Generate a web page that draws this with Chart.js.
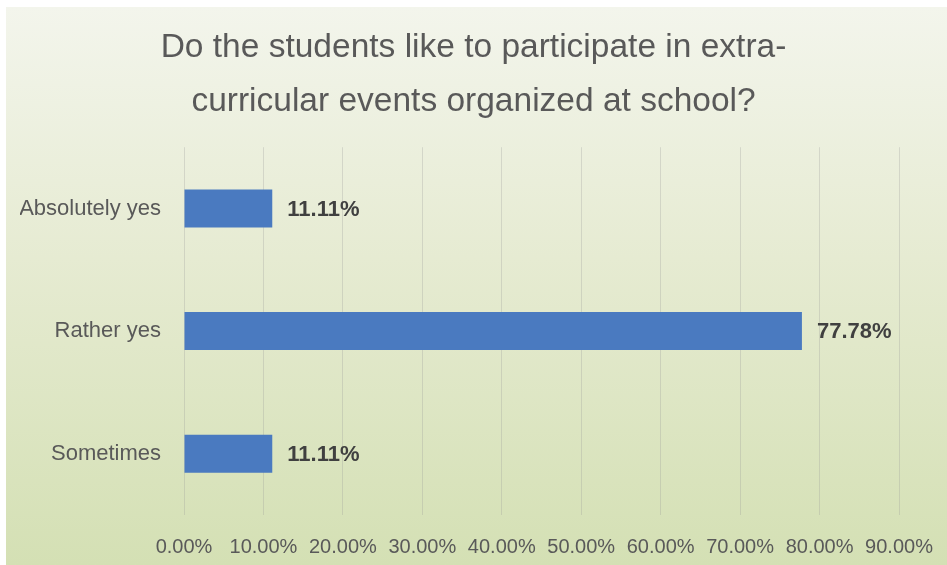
<!DOCTYPE html>
<html lang="en">
<head>
    <meta charset="UTF-8">
    <title>Extra-curricular events</title>
    <script src="https://cdn.jsdelivr.net/npm/chart.js"></script>
    <style>
        body {
            margin: 0;
            background: #ffffff;
        }
        #quadro {
            position: absolute;
            left: 6px;
            top: 7px;
            width: 941px;
            height: 558px;
            background: linear-gradient(to bottom, #f3f5ec 0%, #e6ebd2 45%, #d4e0b4 100%);
        }
    </style>
</head>
<body>

<div id="quadro">
    <canvas id="grafico" width="941" height="558"></canvas>
</div>

<script>
    const categorias = ['Absolutely yes', 'Rather yes', 'Sometimes'];
    const percentuais = [11.11, 77.78, 11.11];
    const escalaMax = 90;
    const escalaPasso = 10;
    const titulo = ['Do the students like to participate in extra-', 'curricular events organized at school?'];

    // desenha o valor ao lado de cada barra
    const rotulosBarras = {
        id: 'rotulosBarras',
        afterDatasetsDraw(chart) {
            const ctx = chart.ctx;
            const meta = chart.getDatasetMeta(0);
            ctx.save();
            ctx.font = 'bold 22px "Liberation Sans"';
            ctx.fillStyle = '#404040';
            ctx.textAlign = 'left';
            ctx.textBaseline = 'middle';
            meta.data.forEach((barra, i) => {
                ctx.fillText(percentuais[i].toFixed(2) + '%', barra.x + 15, barra.y + 1);
            });
            ctx.restore();
        }
    };

    new Chart(document.getElementById('grafico'), {
        type: 'bar',
        data: {
            labels: categorias,
            datasets: [{
                data: percentuais,
                backgroundColor: '#4a7ac0',
                borderWidth: 0,
                categoryPercentage: 1,
                barPercentage: 0.31
            }]
        },
        options: {
            indexAxis: 'y',
            responsive: false,
            animation: false,
            layout: {
                padding: { left: 14, right: 20, top: 0, bottom: 6 }
            },
            plugins: {
                legend: { display: false },
                tooltip: { enabled: false },
                title: {
                    display: true,
                    text: titulo,
                    color: '#595959',
                    font: { family: 'Liberation Sans', size: 33.5, weight: 'normal', lineHeight: 1.6 },
                    padding: { top: 14, bottom: 19 }
                }
            },
            scales: {
                x: {
                    min: 0,
                    max: escalaMax,
                    border: { display: false },
                    grid: { color: 'rgba(150,150,150,0.28)', drawTicks: false },
                    ticks: {
                        stepSize: escalaPasso,
                        padding: 20,
                        color: '#595959',
                        font: { family: 'Liberation Sans', size: 20 },
                        maxRotation: 0,
                        callback: v => v.toFixed(2) + '%'
                    },
                    afterFit: escala => {
                        escala.height = 44;
                        escala.paddingRight = 48;
                    }
                },
                y: {
                    border: { display: false },
                    grid: { display: false, drawTicks: false },
                    ticks: {
                        padding: 23,
                        color: '#595959',
                        font: { family: 'Liberation Sans', size: 22 }
                    },
                    afterFit: escala => { escala.width = 164; }
                }
            }
        },
        plugins: [rotulosBarras]
    });
</script>

</body>
</html>
